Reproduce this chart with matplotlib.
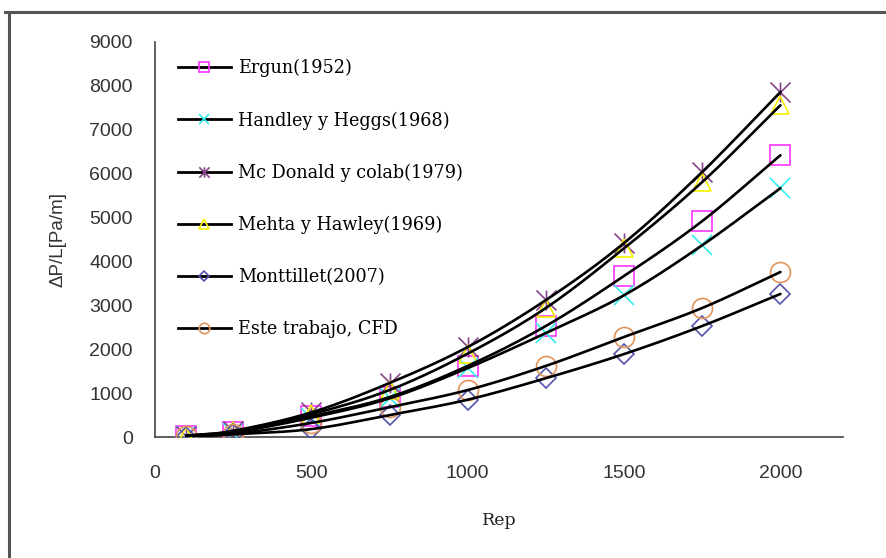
import numpy as np
import matplotlib
matplotlib.use("Agg")
import matplotlib.pyplot as plt
from matplotlib.lines import Line2D
from matplotlib.path import Path

# ---- data ----
rep = [100, 250, 500, 750, 1000, 1250, 1500, 1750, 2000]
ergun = [25, 110, 470, 910, 1620, 2530, 3670, 4920, 6420]
handley = [22, 100, 440, 880, 1570, 2370, 3230, 4370, 5670]
mcdonald = [30, 140, 560, 1230, 2050, 3120, 4420, 6040, 7860]
mehta = [28, 130, 520, 1070, 1900, 2940, 4300, 5810, 7560]
montillet = [10, 60, 180, 500, 850, 1340, 1890, 2530, 3260]
cfd = [15, 70, 320, 680, 1070, 1620, 2280, 2940, 3760]

labels = ["Ergun(1952)", "Handley y Heggs(1968)", "Mc Donald y colab(1979)",
          "Mehta y Hawley(1969)", "Monttillet(2007)", "Este trabajo, CFD"]
series = [ergun, handley, mcdonald, mehta, montillet, cfd]
y_ticks = [0, 1000, 2000, 3000, 4000, 5000, 6000, 7000, 8000, 9000]
x_ticks = [0, 500, 1000, 1500, 2000]

# asterisk marker (X plus vertical bar)
ast = Path([(-0.5, -0.5), (0.5, 0.5), (-0.5, 0.5), (0.5, -0.5), (0, -0.5), (0, 0.5)],
           [Path.MOVETO, Path.LINETO, Path.MOVETO, Path.LINETO, Path.MOVETO, Path.LINETO])

styles = [
    dict(marker="s", color="#FF33FF", ms=14.4),
    dict(marker="x", color="#33EEEE", ms=14.4),
    dict(marker=ast, color="#884488", ms=14.4),
    dict(marker="^", color="#F5F000", ms=13.5),
    dict(marker="D", color="#5555AA", ms=9.8),
    dict(marker="o", color="#E0955A", ms=14.4),
]
leg_ms = [7.5, 7.5, 7.5, 7.5, 5.2, 7.5]


def catmull(x, y, n=20):
    x = np.asarray(x, float)
    y = np.asarray(y, float)
    px = np.concatenate([[2 * x[0] - x[1]], x, [2 * x[-1] - x[-2]]])
    py = np.concatenate([[2 * y[0] - y[1]], y, [2 * y[-1] - y[-2]]])
    xs, ys = [], []
    t = np.linspace(0, 1, n, endpoint=False)
    for i in range(1, len(px) - 2):
        for p, out in ((px, xs), (py, ys)):
            p0, p1, p2, p3 = p[i - 1], p[i], p[i + 1], p[i + 2]
            out.append(0.5 * ((2 * p1) + (-p0 + p2) * t +
                              (2 * p0 - 5 * p1 + 4 * p2 - p3) * t ** 2 +
                              (-p0 + 3 * p1 - 3 * p2 + p3) * t ** 3))
    xs.append([x[-1]])
    ys.append([y[-1]])
    return np.concatenate(xs), np.concatenate(ys)


fig = plt.figure(figsize=(8.86, 5.58), dpi=100)
ax = fig.add_axes([155 / 886, 1 - 437 / 558, (843 - 155) / 886, (437 - 42) / 558])

for vals, st in zip(series, styles):
    ax.plot(rep, vals, ls="none", marker=st["marker"], ms=st["ms"],
            mfc="none", mec=st["color"], mew=1.2, zorder=3)
for vals in series:
    sx, sy = catmull(rep, vals)
    ax.plot(sx, sy, color="black", lw=1.9, zorder=4, solid_capstyle="round")

ax.set_xlim(0, 2200)
ax.set_ylim(0, 9000)
ax.set_xticks(x_ticks)
ax.set_yticks(y_ticks)
ax.tick_params(length=0, labelsize=14, labelcolor="#333333")
ax.tick_params(axis="y", pad=16)
ax.tick_params(axis="x", pad=20)
for lab in ax.get_xticklabels() + ax.get_yticklabels():
    lab.set_fontfamily("Liberation Sans")
for s in ("top", "right"):
    ax.spines[s].set_visible(False)
for s in ("left", "bottom"):
    ax.spines[s].set_color("#444444")
    ax.spines[s].set_linewidth(1.2)

ax.set_ylabel("ΔP/L[Pa/m]", fontfamily="Liberation Sans", fontsize=13.5,
              color="#333333", labelpad=16)
ax.set_xlabel("Rep", fontfamily="DejaVu Serif", fontsize=12.5, color="#222222",
              labelpad=22)

handles = [Line2D([], [], color="black", lw=2.0, marker=st["marker"], ms=m,
                  mfc="none", mec=st["color"], mew=1.2)
           for st, m in zip(styles, leg_ms)]
ax.legend(handles, labels, loc="upper left",
          bbox_to_anchor=(178 / 886, 1 - 59 / 558), bbox_transform=fig.transFigure,
          frameon=False, borderpad=0, borderaxespad=0, handlelength=3.0,
          handletextpad=0.4, labelspacing=1.93,
          prop={"family": "DejaVu Serif", "size": 12.7})

# outer frame (top and left edges)
fig.add_artist(Line2D([5 / 886, 1], [1 - 11.5 / 558, 1 - 11.5 / 558],
                      transform=fig.transFigure, color="#555555", lw=2.2))
fig.add_artist(Line2D([8.5 / 886, 8.5 / 886], [0, 1 - 11.5 / 558],
                      transform=fig.transFigure, color="#555555", lw=2.2))

fig.savefig("out.png", dpi=100)
